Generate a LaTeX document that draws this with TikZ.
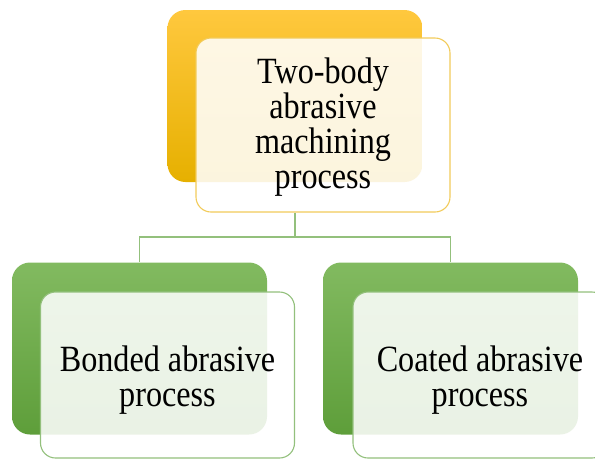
\documentclass[tikz,border=0pt]{standalone}
\usepackage{fontspec}
\setmainfont{Liberation Serif}[FakeStretch=0.87]
\usetikzlibrary{positioning}

\definecolor{goldtop}{HTML}{FFC83E}
\definecolor{goldbot}{HTML}{E6B000}
\definecolor{goldline}{HTML}{F2CB5A}
\definecolor{greentop}{HTML}{82BA60}
\definecolor{greenbot}{HTML}{5E9E3A}
\definecolor{greenline}{HTML}{93C07C}

\tikzset{
  backbox/.style={rounded corners=18pt, minimum width=255pt, minimum height=172pt, inner sep=0pt},
  backgold/.style={backbox, top color=goldtop, bottom color=goldbot},
  backgreen/.style={backbox, top color=greentop, bottom color=greenbot},
  frontbox/.style={rounded corners=15pt, minimum width=254pt, minimum height=170pt,
    fill=white, fill opacity=0.87, line width=1.1pt},
  boxtext/.style={align=center, inner sep=0pt, font=\fontsize{37}{35}\selectfont},
  link/.style={draw=greenline, line width=1.2pt}
}

\begin{document}
\begin{tikzpicture}[x=1pt, y=-1pt]
  \useasboundingbox (0,0) rectangle (595,459);

  % top level
  \node[backgold] (topback) at (295,96) {};
  \node[frontbox, draw=goldline, minimum height=174pt] (topfront) at (323,125) {};
  \node[boxtext] (toptext) at ([yshift=-2pt]topfront.center)
    {Two-body\\abrasive\\machining\\process};

  % second level
  \node[backgreen] (leftback) at (139.5,348.5) {};
  \node[frontbox, draw=greenline, minimum height=166pt] (leftfront) at (167.5,375) {};
  \node[boxtext] (lefttext) at ([yshift=-5pt]leftfront.center)
    {Bonded abrasive\\process};

  \node[backgreen] (rightback) at (450.5,348.5) {};
  \node[frontbox, draw=greenline, minimum height=166pt] (rightfront) at (480,375) {};
  \node[boxtext] (righttext) at ([yshift=-5pt]rightfront.center)
    {Coated abrasive\\process};

  % tree lines
  \coordinate (split) at (295,237);
  \draw[link] (topfront.south -| split) -- (split) -| (leftback.north);
  \draw[link] (split) -| (rightback.north);
\end{tikzpicture}
\end{document}
